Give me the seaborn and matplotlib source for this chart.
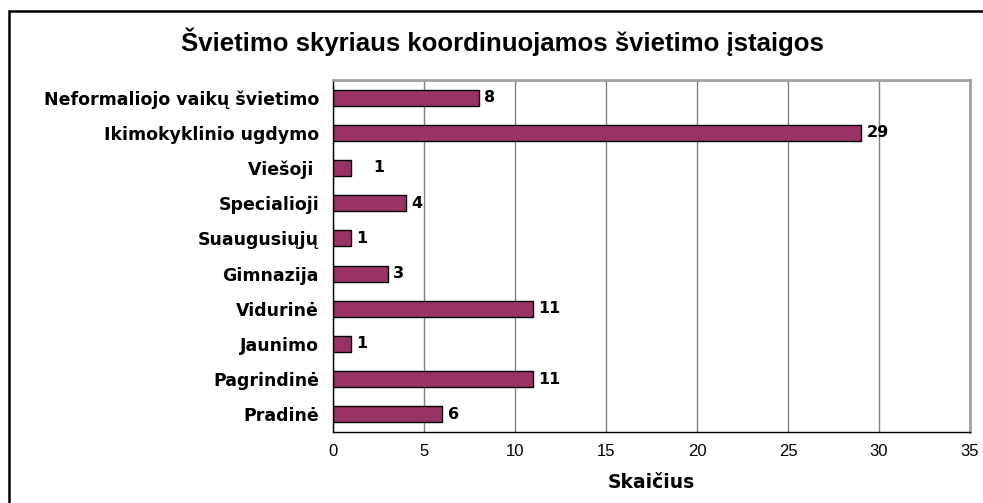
import pandas as pd
import seaborn as sns
import matplotlib.pyplot as plt
from matplotlib.patches import Rectangle

categories = ["Neformaliojo vaikų švietimo", "Ikimokyklinio ugdymo", "Viešoji ",
              "Specialioji", "Suaugusiųjų", "Gimnazija", "Vidurinė",
              "Jaunimo", "Pagrindinė", "Pradinė"]
counts = [8, 29, 1, 4, 1, 3, 11, 1, 11, 6]
bar_labels = ["8", "29", "   1", "4", "1", "3", "11", "1", "11", "6"]
x_ticks = [0, 5, 10, 15, 20, 25, 30, 35]

df = pd.DataFrame({"kategorija": categories, "skaicius": counts})

sns.set_style("white")
plt.rcParams["font.family"] = ["Liberation Sans", "DejaVu Sans"]
plt.rcParams["text.color"] = "black"
plt.rcParams["axes.labelcolor"] = "black"
plt.rcParams["xtick.color"] = "black"
plt.rcParams["ytick.color"] = "black"

wide = ["DejaVu Sans"]

fig = plt.figure(figsize=(9.83, 5.03), dpi=100)
ax = fig.add_axes([333 / 983, 1 - 432 / 503, 637 / 983, 352 / 503])

# outer chart frame (only top and left visible)
fig.patches.append(Rectangle((9 / 983, -0.1), 1.2, 1 - 11 / 503 + 0.1,
                             transform=fig.transFigure, fill=False,
                             edgecolor="black", linewidth=1.8))

sns.barplot(data=df, y="kategorija", x="skaicius", orient="h", ax=ax,
            color="#993366", saturation=1, width=0.45,
            edgecolor="black", linewidth=1)

ax.set_xlim(0, 35)
ax.set_ylim(9.5, -0.5)
ax.set_xticks(x_ticks)
ax.set_xticklabels([str(t) for t in x_ticks], fontsize=12)
ax.xaxis.grid(True, color="#808080", linewidth=1)
ax.set_axisbelow(True)

# ticks between categories on y axis
ax.set_yticks(range(len(categories)))
ax.set_yticklabels(categories, fontsize=12.5, fontweight="bold", family=wide)
ax.set_yticks([i + 0.5 for i in range(-1, len(categories))], minor=True)
ax.tick_params(axis="y", which="major", length=0, pad=10)
ax.tick_params(axis="y", which="minor", length=5, width=1, color="black", direction="out")
ax.tick_params(axis="x", length=5, width=1, color="black", direction="inout", pad=6)

for s in ["left", "bottom"]:
    ax.spines[s].set_color("black")
    ax.spines[s].set_linewidth(1)
for s in ["top", "right"]:
    ax.spines[s].set_visible(True)
    ax.spines[s].set_color("#a0a0a0")
    ax.spines[s].set_linewidth(2)

for i, (v, lab) in enumerate(zip(counts, bar_labels)):
    ax.text(v + 0.3, i, lab, va="center", ha="left", fontsize=11.5,
            fontweight="bold", family=wide)

ax.set_ylabel("")
ax.set_xlabel("Skaičius", fontsize=13.5, fontweight="bold", family=wide, labelpad=10)
fig.text(502 / 983, 1 - 42 / 503, "Švietimo skyriaus koordinuojamos švietimo įstaigos",
         ha="center", va="center", fontsize=18.5, fontweight="bold")

fig.savefig("out.png", dpi=100)
